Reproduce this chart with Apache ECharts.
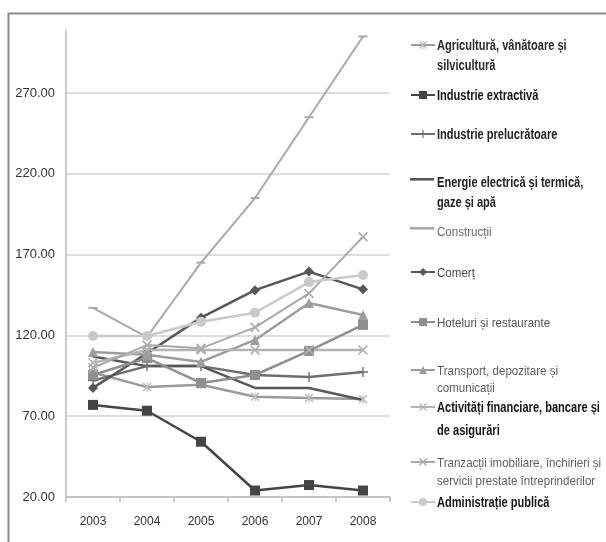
<!DOCTYPE html>
<html><head><meta charset="utf-8">
<script src="https://cdn.jsdelivr.net/npm/echarts@6/dist/echarts.min.js"></script>
<style>html,body{margin:0;padding:0;background:#fff}#c{width:606px;height:542px}</style>
</head><body><div id="c"></div>
<script>
const years = ['2003', '2004', '2005', '2006', '2007', '2008'];
const yMin = 20, yMax = 309, yStep = 50;

const names = [
  'Agricultură, vânătoare și silvicultură',
  'Industrie extractivă',
  'Industrie prelucrătoare',
  'Energie electrică și termică, gaze și apă',
  'Construcții',
  'Comerț',
  'Hoteluri și restaurante',
  'Transport, depozitare și comunicații',
  'Activități financiare, bancare și de asigurări',
  'Tranzacții imobiliare, închirieri și servicii prestate întreprinderilor',
  'Administrație publică'
];
const legendLines = [
  ['Agricultură, vânătoare și', 'silvicultură'],
  ['Industrie extractivă'],
  ['Industrie prelucrătoare'],
  ['Energie electrică și termică,', 'gaze și apă'],
  ['Construcții'],
  ['Comerț'],
  ['Hoteluri și restaurante'],
  ['Transport, depozitare și', 'comunicații'],
  ['Activități financiare, bancare și', 'de asigurări'],
  ['Tranzacții imobiliare, închirieri și', 'servicii prestate întreprinderilor'],
  ['Administrație publică']
];

const agricultura   = [97, 88, 89.5, 82, 81.3, 80.6];
const extractiva    = [77, 73.4, 54.2, 24, 27.4, 24];
const prelucratoare = [92, 101, 101, 95.5, 94.3, 97.4];
const energie       = [107, 101, 101, 87.5, 87.5, 80];
const constructii   = [137, 119, 165, 205, 255, 305];
const comert        = [87.5, 109, 131, 148, 159.5, 148.5];
const hoteluri      = [95.5, 106, 90.6, 95.5, 110.4, 126.5];
const transport     = [109.8, 108, 103.6, 117.2, 140, 132.6];
const financiare    = [103, 111, 111, 111, 111, 111];
const tranzactii    = [100, 114, 112, 125, 146, 181];
const administratie = [119.6, 119.6, 128.5, 134, 153, 157.4];

const values = [agricultura, extractiva, prelucratoare, energie, constructii, comert,
                hoteluri, transport, financiare, tranzactii, administratie];

const X = 'path://M0,1.2L1.2,0L5,3.8L8.8,0L10,1.2L6.2,5L10,8.8L8.8,10L5,6.2L1.2,10L0,8.8L3.8,5Z';
const AST = 'path://M0,1.2L1.2,0L5,3.8L8.8,0L10,1.2L6.2,5L10,8.8L8.8,10L5,6.2L1.2,10L0,8.8L3.8,5Z M4.4,0H5.6V10H4.4Z';
const PLUS = 'path://M4.3,0H5.7V4.3H10V5.7H5.7V10H4.3V5.7H0V4.3H4.3Z';
const LINEICON = 'path://M0,0H24V2.6H0Z';

const styles = [
  {color: '#9a9a9a', sym: AST, size: 9, w: 2.5, mcolor: '#bdbdbd'},
  {color: '#444444', sym: 'rect', size: 10, w: 2.5},
  {color: '#6e6e6e', sym: PLUS, size: 10, w: 2.5},
  {color: '#585858', sym: 'none', size: 0, w: 2.5, icon: LINEICON},
  {color: '#a8a8a8', sym: 'rect', size: [9, 2], w: 2, icon: LINEICON},
  {color: '#575757', sym: 'diamond', size: 10, w: 2.5},
  {color: '#8f8f8f', sym: 'rect', size: 10, w: 2.5},
  {color: '#9d9d9d', sym: 'triangle', size: 10, w: 2.5},
  {color: '#b3b3b3', sym: X, size: 10, w: 2.5},
  {color: '#a9a9a9', sym: X, size: 10, w: 2},
  {color: '#c9c9c9', sym: 'circle', size: 10, w: 2.5}
];

const BOLD = {fs: 14, fw: 'bold', sx: 0.79};
const LIGHT = {fs: 13, fw: 'normal', sx: 0.89};
const legendStyle = [
  {t: BOLD,  c: '#2a2a2a', lh: 20, y: 46},
  {t: BOLD,  c: '#151515', lh: 20, y: 96},
  {t: BOLD,  c: '#222222', lh: 20, y: 135},
  {t: BOLD,  c: '#222222', lh: 20, y: 183},
  {t: LIGHT, c: '#6a6a6a', lh: 18, y: 232},
  {t: LIGHT, c: '#4a4a4a', lh: 18, y: 273},
  {t: LIGHT, c: '#555555', lh: 18, y: 323},
  {t: LIGHT, c: '#5e5e5e', lh: 17, y: 371},
  {t: BOLD,  c: '#151515', lh: 23, y: 408},
  {t: LIGHT, c: '#5e5e5e', lh: 18, y: 463},
  {t: BOLD,  c: '#151515', lh: 20, y: 503}
];

const FONT = '"Liberation Sans", Arial, sans-serif';
const iconH = 10;

const legends = names.map((n, i) => {
  const s = legendStyle[i];
  const item = styles[i].icon ? {name: n, icon: styles[i].icon} : {name: n};
  return {
    data: [item],
    left: 410,
    top: s.y - iconH / 2,
    padding: 0,
    itemWidth: 24,
    itemHeight: iconH,
    selectedMode: false,
    formatter: () => '',
    textStyle: {fontSize: 1, lineHeight: 1}
  };
});

const legendTexts = legendLines.map((lines, i) => {
  const s = legendStyle[i];
  return {
    type: 'text',
    x: 437,
    y: s.y - s.lh / 2,
    scaleX: s.t.sx,
    silent: true,
    style: {
      text: lines.join('\n'),
      fontFamily: FONT, fontSize: s.t.fs, fontWeight: s.t.fw,
      fill: s.c, lineHeight: s.lh, verticalAlign: 'top', align: 'left'
    }
  };
});

const series = names.map((n, i) => {
  const st = styles[i];
  return {
    name: n,
    type: 'line',
    data: values[i],
    symbol: st.sym,
    symbolSize: st.size,
    showSymbol: st.sym !== 'none',
    lineStyle: {color: st.color, width: st.w},
    itemStyle: {color: st.mcolor || st.color},
    emphasis: {disabled: true},
    animation: false
  };
});

const chart = echarts.init(document.getElementById('c'), null, {renderer: 'canvas'});
chart.setOption({
  backgroundColor: '#fff',
  animation: false,
  graphic: [{
    type: 'rect', left: 6, top: 11,
    shape: {width: 640, height: 600},
    style: {fill: 'none', stroke: '#8c8c8c', lineWidth: 2},
    silent: true, z: -1
  }].concat(legendTexts),
  grid: {left: 66, right: 216, top: 30, bottom: 45},
  legend: legends,
  xAxis: {
    type: 'category',
    data: years,
    boundaryGap: true,
    axisLine: {lineStyle: {color: '#bdbdbd', width: 1.5}},
    axisTick: {show: true, length: 5, lineStyle: {color: '#bdbdbd', width: 1.5}},
    axisLabel: {fontFamily: FONT, fontSize: 12, color: '#333', margin: 19}
  },
  yAxis: {
    type: 'value',
    min: yMin, max: yMax, interval: yStep,
    axisLine: {show: true, lineStyle: {color: '#bdbdbd', width: 1.5}},
    axisTick: {show: false},
    splitLine: {show: true, showMaxLine: false, lineStyle: {color: '#d2d2d2', width: 1.5}},
    axisLabel: {
      fontFamily: FONT, fontSize: 13, color: '#333', margin: 11,
      showMaxLabel: false,
      formatter: v => ((v - yMin) % yStep === 0 ? v.toFixed(2) : '')
    }
  },
  series: series
});
</script></body></html>
